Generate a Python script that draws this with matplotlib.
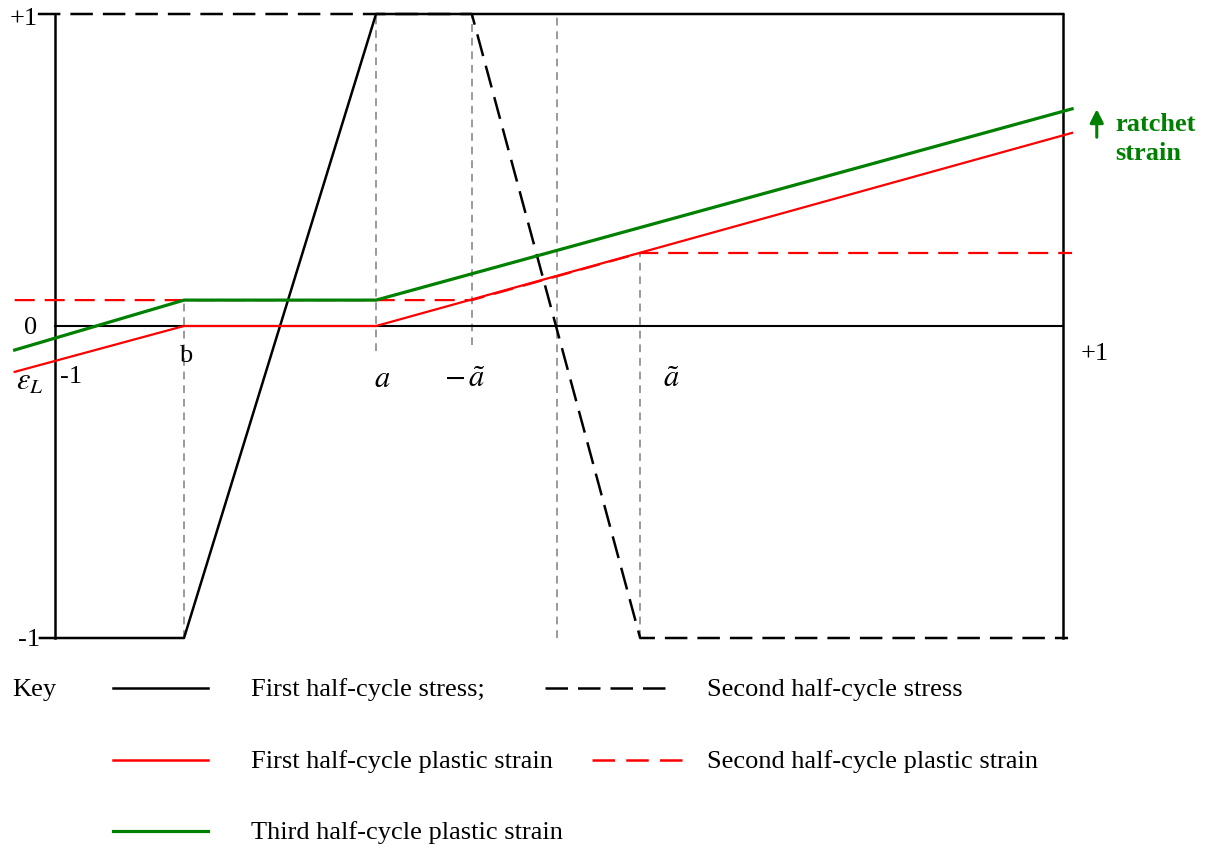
import matplotlib.pyplot as plt
import numpy as np

plt.rcParams['font.family'] = ['Liberation Serif', 'DejaVu Serif']
plt.rcParams['mathtext.fontset'] = 'stix'

# key abscissae (normalised, -1 .. +1)
b = -0.744
a = -0.363
neg_at = -0.173
at = 0.161
x_zero = -0.003

# stress, first and second half-cycle
stress1_x = [-1.03, b, a, 1.0]
stress1_y = [-1, -1, 1, 1]
stress2_x = [-1.034, neg_at, at, 1.01]
stress2_y = [1, 1, -1, -1]

# plastic strains
strain1_x = [-1.08, b, a, 1.018]
strain1_y = [-0.147, 0, 0, 0.619]
strain2_x = [-1.08, neg_at, at, 1.018]
strain2_y = [0.083, 0.083, 0.234, 0.234]
strain3_x = [-1.08, b, a, 1.018]
strain3_y = [-0.077, 0.083, 0.083, 0.696]

# gray guide lines: x, y bottom, y top
guide_x = [b, a, neg_at, x_zero, at]
guide_lo = [-1, -0.08, -0.06, -1, -1]
guide_hi = [0.083, 1, 1, 1, 0.234]

W, H = 1212, 850
fig = plt.figure(figsize=(W / 100, H / 100), dpi=100)
ax = fig.add_axes([0, 0, 1, 1])
ax.set_xlim(-1 - 55 / 504, -1 + 1157 / 504)
ax.set_ylim(-524 / 312, 326 / 312)
ax.axis('off')

gray = '#9a9a9a'
for gx, lo, hi in zip(guide_x, guide_lo, guide_hi):
    ax.plot([gx, gx], [lo, hi], color=gray, lw=1.4, ls=(0, (4, 3)), zorder=1)

# frame
ax.plot([-1, -1], [-1, 1], color='black', lw=1.8)
ax.plot([1, 1], [-1, 1], color='black', lw=1.8)
ax.plot([-1, 1], [0, 0], color='black', lw=1.5)

ax.plot(stress1_x, stress1_y, color='black', lw=1.8, zorder=3)
ax.plot(stress2_x, stress2_y, color='black', lw=1.8, ls=(0, (9, 4)), zorder=3)
ax.plot(strain1_x, strain1_y, color='#ff0000', lw=1.6, zorder=4)
ax.plot(strain2_x, strain2_y, color='#ff0000', lw=1.6, ls=(0, (9, 4.5)), zorder=4)
ax.plot(strain3_x, strain3_y, color='#008000', lw=2.3, zorder=5)

fs = 19
ax.text(-1.035, 0.985, '+1', fontsize=fs, ha='right', va='center')
ax.text(-1.035, -0.008, '0', fontsize=fs, ha='right', va='center')
ax.text(-1.03, -1.007, '-1', fontsize=fs, ha='right', va='center')
ax.text(-1.05, -0.18, r'$\varepsilon_L$', fontsize=fs + 3, ha='center', va='center')
ax.text(-0.99, -0.165, '-1', fontsize=fs, ha='left', va='center')
ax.text(b + 0.004, -0.095, 'b', fontsize=fs, ha='center', va='center')
ax.text(a + 0.012, -0.17, r'$a$', fontsize=fs + 3, ha='center', va='center')
ax.text(neg_at - 0.014, -0.17, r'$-\,\tilde{a}$', fontsize=fs + 3, ha='center', va='center')
ax.text(at + 0.062, -0.17, r'$\tilde{a}$', fontsize=fs + 3, ha='center', va='center')
ax.text(1.035, -0.09, '+1', fontsize=fs, ha='left', va='center')

ax.annotate('', xy=(1.067, 0.695), xytext=(1.067, 0.605),
            arrowprops=dict(arrowstyle='-|>', color='#008000', lw=2.2, mutation_scale=20,
                            shrinkA=0, shrinkB=0))
ax.text(1.104, 0.6, 'ratchet\nstrain', fontsize=fs, fontweight='bold', color='#008000',
        ha='left', va='center', linespacing=1.35)

# key
def fx(px):
    return px / W

def fy(py):
    return 1 - py / H

fig.text(fx(12), fy(690), 'Key', fontsize=fs, va='center')
key_rows = [
    (688, 113, 208, 'black', '-', 'First half-cycle stress;', 251),
    (688, 545, 665, 'black', (0, (9, 4)), 'Second half-cycle stress', 707),
    (760, 113, 208, '#ff0000', '-', 'First half-cycle plastic strain', 251),
    (760, 592, 690, '#ff0000', (0, (9, 4.5)), 'Second half-cycle plastic strain', 707),
    (831, 113, 208, '#008000', '-', 'Third half-cycle plastic strain', 251),
]
for py, x0, x1, c, ls, label, tx in key_rows:
    lw = 2.3 if c == '#008000' else 1.8
    fig.add_artist(plt.Line2D([fx(x0), fx(x1)], [fy(py), fy(py)], color=c, lw=lw, ls=ls,
                              transform=fig.transFigure))
    fig.text(fx(tx), fy(py + 2), label, fontsize=fs, va='center')

fig.savefig('out.png', dpi=100)
